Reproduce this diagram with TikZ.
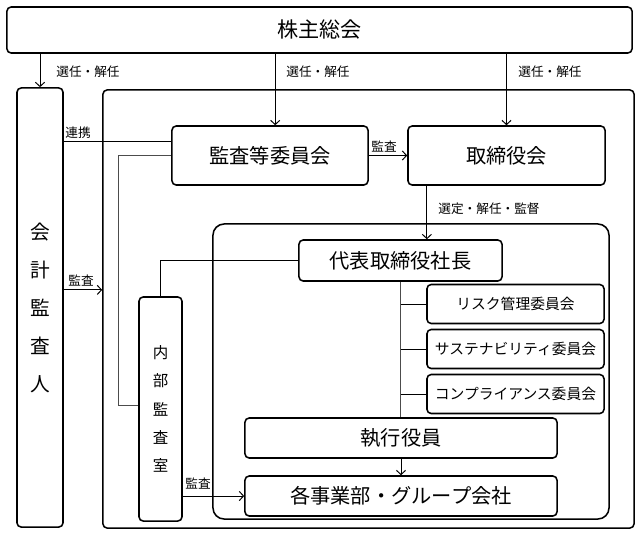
\documentclass[tikz,border=0pt]{standalone}
\usepackage{fontspec}
\setmainfont{Noto Sans CJK JP}
\usetikzlibrary{arrows.meta}

\tikzset{
  box/.style={draw, line width=1.1pt, rounded corners=3pt, inner sep=0pt, align=center},
  bigtxt/.style={font=\fontsize{14.4}{17}\selectfont},
  smalltxt/.style={font=\fontsize{10.5}{12}\selectfont},
  lbl/.style={font=\fontsize{9}{10}\selectfont, inner sep=1pt},
  conn/.style={line width=0.7pt, -{Straight Barb[length=3pt,width=6.5pt]}},
  wire/.style={line width=0.7pt},
}

\begin{document}
\begin{tikzpicture}[x=0.025cm, y=-0.025cm]
  \useasboundingbox (0,0) rectangle (640,535);

  % frames
  \node[box, minimum width=13.275cm, minimum height=10.95cm] (company) at (368.5,309) {};
  \node[box, rounded corners=8pt, minimum width=9.9cm, minimum height=7.375cm] (exec) at (411,371.5) {};

  % boxes
  \node[box, font=\fontsize{15}{17}\selectfont, minimum width=15.625cm, minimum height=1.15cm] (meeting) at (319.5,30) {株主総会};
  \node[box, font=\fontsize{14}{27}\selectfont, minimum width=1.15cm, minimum height=10.975cm] (auditor) at (40,307.5) {会\\計\\監\\査\\人};
  \node[box, bigtxt, minimum width=4.9cm, minimum height=1.475cm] (committee) at (270,155.5) {監査等委員会};
  \node[box, bigtxt, minimum width=4.925cm, minimum height=1.475cm] (board) at (506.5,155.5) {取締役会};
  \node[box, bigtxt, minimum width=5.075cm, minimum height=1.025cm] (ceo) at (400.5,260.5) {代表取締役社長};
  \node[box, smalltxt, minimum width=4.425cm, minimum height=0.975cm] (risk) at (515.5,304) {リスク管理委員会};
  \node[box, smalltxt, minimum width=4.425cm, minimum height=0.975cm] (sustain) at (515.5,349) {サステナビリティ委員会};
  \node[box, smalltxt, minimum width=4.425cm, minimum height=0.975cm] (comply) at (515.5,394) {コンプライアンス委員会};
  \node[box, bigtxt, minimum width=7.8cm, minimum height=1cm] (officers) at (401,438) {執行役員};
  \node[box, bigtxt, minimum width=7.8cm, minimum height=1cm] (divisions) at (401,496) {各事業部・グループ会社};
  \node[box, font=\fontsize{11}{20}\selectfont, minimum width=1.075cm, minimum height=5.6cm] (internal) at (160.5,409) {内\\部\\監\\査\\室};

  % election by the shareholders
  \draw[conn] (meeting.south -| auditor.north) -- (auditor.north);
  \draw[conn] ([xshift=0.13cm]committee.north |- meeting.south) -- ([xshift=0.13cm]committee.north);
  \draw[conn] (meeting.south -| board.north) -- (board.north);
  \node[lbl] (elect1) at (88,72) {選任・解任};
  \node[lbl] (elect2) at (318,72) {選任・解任};
  \node[lbl] (elect3) at (550,72) {選任・解任};

  % audit lines
  \draw[wire] ([yshift=0.36cm]committee.west) -- ([yshift=0.36cm]committee.west -| auditor.east);
  \node[lbl] (link) at (78,133) {連携};
  \draw[conn] ([yshift=0.44cm]auditor.east) -- ([yshift=0.44cm]auditor.east -| company.west);
  \node[lbl] (audit1) at (81,281) {監査};
  \draw[conn] (committee) -- (board);
  \node[lbl] (audit2) at (384,147) {監査};
  \coordinate (bend) at (118,405);
  \draw[wire, black!70] (committee.west) -| (bend) -- (bend -| internal.west);
  \draw[wire] (ceo.west) -| (internal.north);
  \draw[conn] (internal.east |- divisions.west) -- (divisions.west);
  \node[lbl] (audit3) at (198,484) {監査};

  % executive side
  \draw[conn] ([xshift=-1.99cm]board.south) -- ([xshift=-1.99cm]board.south |- ceo.north);
  \node[lbl] (appoint) at (489,209) {選定・解任・監督};
  \draw[wire, black!70] (ceo.south) -- (ceo.south |- officers.north);
  \foreach \c in {risk, sustain, comply}
  {
      \draw[wire] (\c.west) -- (\c.west -| ceo.south);
  }
  \draw[conn] (officers) -- (divisions);
\end{tikzpicture}
\end{document}
